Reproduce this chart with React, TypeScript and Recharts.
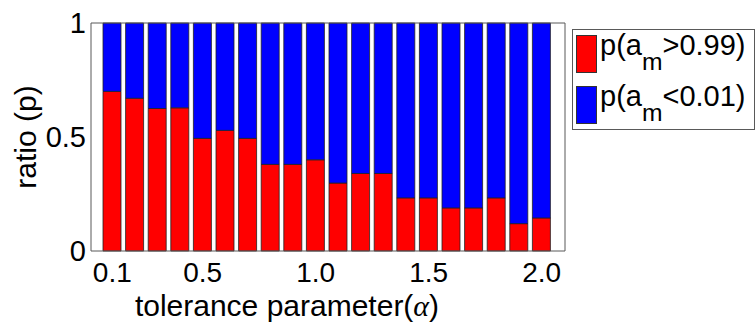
import React from 'react';
import { BarChart, Bar, XAxis, YAxis } from 'recharts';

// tolerance parameter values (categories)
const ALPHA = ['0.1', '0.2', '0.3', '0.4', '0.5', '0.6', '0.7', '0.8', '0.9', '1.0',
    '1.1', '1.2', '1.3', '1.4', '1.5', '1.6', '1.7', '1.8', '1.9', '2.0'];

// p(a_m > 0.99)
const P_HIGH = [0.70, 0.67, 0.625, 0.628, 0.494, 0.529, 0.494, 0.38, 0.38, 0.40,
    0.298, 0.34, 0.34, 0.233, 0.233, 0.189, 0.189, 0.233, 0.12, 0.145];

// p(a_m < 0.01)
const P_LOW = [0.30, 0.33, 0.375, 0.372, 0.506, 0.471, 0.506, 0.62, 0.62, 0.60,
    0.702, 0.66, 0.66, 0.767, 0.767, 0.811, 0.811, 0.767, 0.88, 0.855];

const X_TICKS = ['0.1', '0.5', '1.0', '1.5', '2.0'];
const Y_TICKS = [0, 0.5, 1];

const SERIES_KEYS = ['high', 'low'];
const SERIES_LABELS = [
    ['p(a', 'm', '>0.99)'],
    ['p(a', 'm', '<0.01)'],
];

const COLORS = ['#ff0000', '#0000ff'];
const AXIS = '#595959';
const FONT = '"Liberation Sans", Arial, sans-serif';

const data = ALPHA.map((a, i) => ({ alpha: a, high: P_HIGH[i], low: P_LOW[i] }));

const YLabel = ({ viewBox }: any) => {
    const x = viewBox.x + 36;
    const y = viewBox.y + viewBox.height / 2;
    return (
        <text x={x} y={y} transform={`rotate(-90 ${x} ${y})`} textAnchor="middle" fontSize={30} fill="#000" fontFamily={FONT}>
            ratio (p)
        </text>
    );
};

const XLabel = ({ viewBox }: any) => (
    <text x={viewBox.x + 196} y={viewBox.y + 65} textAnchor="middle" fontSize={30} fill="#000" fontFamily={FONT}>
        tolerance parameter(<tspan fontFamily='"Liberation Serif", serif' fontStyle="italic">α</tspan>)
    </text>
);

const LegendBox = () => (
    <div style={{
        position: 'absolute', left: 572, top: 29, width: 181, height: 99,
        border: `1px solid ${AXIS}`, background: '#fff', fontFamily: FONT, fontSize: 29, color: '#000'
    }}>
        {SERIES_LABELS.map((lab, i) => (
            <div key={lab.join('')} style={{ position: 'absolute', left: 3, top: 5 + i * 51, height: 39, display: 'flex' }}>
                <div style={{ width: 21, height: 38, background: COLORS[i], border: '1px solid #333', boxSizing: 'border-box' }} />
                <div style={{ marginLeft: 3, lineHeight: '29px', marginTop: -4, whiteSpace: 'nowrap' }}>
                    {lab[0]}
                    <span style={{ position: 'relative', top: '0.62em', fontSize: '0.85em' }}>{lab[1]}</span>
                    {lab[2]}
                </div>
            </div>
        ))}
    </div>
);

export default function App() {
    return (
        <div style={{ position: 'absolute', left: 0, top: 0, width: 756, height: 323, background: '#fff', fontFamily: FONT }}>
            <BarChart width={756} height={323} data={data} margin={{ top: 23, right: 191, bottom: 0, left: 0 }} barSize={18}>
                <XAxis
                    dataKey="alpha"
                    ticks={X_TICKS}
                    interval={0}
                    height={72}
                    padding={{ left: 10, right: 12 }}
                    tickLine={false}
                    tickSize={0}
                    tickMargin={11}
                    axisLine={{ stroke: AXIS }}
                    tick={{ fill: '#000', fontSize: 28, fontFamily: FONT }}
                    label={<XLabel />}
                />
                {/* top frame line */}
                <XAxis xAxisId="top" dataKey="alpha" orientation="top" mirror height={1} tick={false} tickLine={false}
                    axisLine={{ stroke: AXIS }} padding={{ left: 10, right: 12 }} />
                <YAxis
                    domain={[0, 1]}
                    ticks={Y_TICKS}
                    width={91}
                    tickLine={false}
                    tickSize={0}
                    tickMargin={5}
                    axisLine={{ stroke: AXIS }}
                    tick={{ fill: '#000', fontSize: 29, fontFamily: FONT }}
                    label={<YLabel />}
                />
                {/* inward ticks, left and right frame */}
                <YAxis yAxisId="lm" domain={[0, 1]} ticks={Y_TICKS} width={1} mirror tickSize={4}
                    axisLine={false} tickLine={{ stroke: AXIS }} tickFormatter={() => ''} />
                <YAxis yAxisId="r" orientation="right" domain={[0, 1]} ticks={Y_TICKS} width={1} mirror tickSize={4}
                    axisLine={{ stroke: AXIS }} tickLine={{ stroke: AXIS }} tickFormatter={() => ''} />
                {SERIES_KEYS.map((k, i) => (
                    <Bar key={k} dataKey={k} stackId="p" fill={COLORS[i]} stroke="#222" strokeWidth={0.8} isAnimationActive={false} />
                ))}
            </BarChart>
            <LegendBox />
        </div>
    );
}
